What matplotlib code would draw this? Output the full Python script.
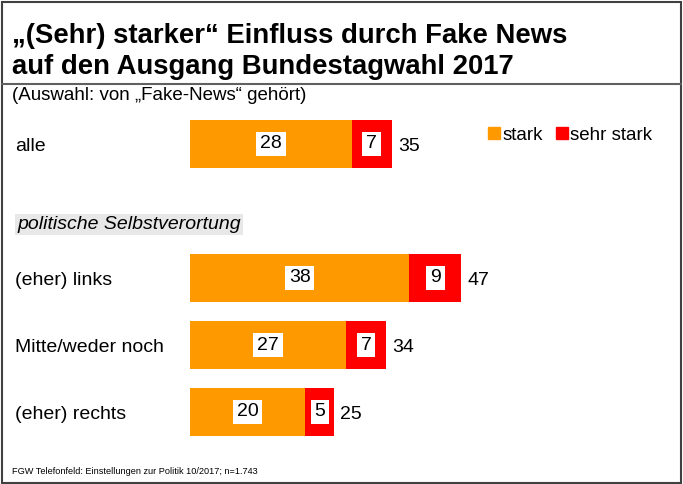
import matplotlib.pyplot as plt
from matplotlib.lines import Line2D
from matplotlib.patches import Rectangle
import matplotlib.transforms as mtransforms

plt.rcParams['font.family'] = ['Liberation Sans', 'DejaVu Sans']

# data
categories = ['alle', '(eher) links', 'Mitte/weder noch', '(eher) rechts']
positions = [0, 2, 3, 4]
stark = [28, 38, 27, 20]
sehr_stark = [7, 9, 7, 5]
totals = [35, 47, 34, 25]
series_names = ['stark', 'sehr stark']
c_stark = '#FF9900'
c_sehr = '#FF0000'

W, H = 683, 484
fig = plt.figure(figsize=(W / 100, H / 100), dpi=100)

# bar axes: 1 unit = 5.77 px, x starts at 190 px; row 0 centred at 144 px, 67 px per row
px_unit = 202 / 35.0
x0 = 190
xmax = 80
ytop, ybot = -0.5, 4.9
top_px = 144 + ytop * 67
bot_px = 144 + ybot * 67
ax = fig.add_axes([x0 / W, 1 - bot_px / H, xmax * px_unit / W, (bot_px - top_px) / H])
ax.set_xlim(0, xmax)
ax.set_ylim(ybot, ytop)
ax.axis('off')

bh = 0.72
ax.barh(positions, stark, height=bh, color=c_stark, edgecolor='none')
ax.barh(positions, sehr_stark, left=stark, height=bh, color=c_sehr, edgecolor='none')

box = dict(boxstyle='square,pad=0.2', facecolor='white', edgecolor='none')
for p, a, b, t in zip(positions, stark, sehr_stark, totals):
    ax.text(a / 2, p, str(a), ha='center', va='center', fontsize=14, bbox=box)
    ax.text(a + b / 2, p, str(b), ha='center', va='center', fontsize=14, bbox=box)
    ax.text(t + 1.0, p + 0.03, str(t), ha='left', va='center', fontsize=14)

# category labels on the left
trans = mtransforms.blended_transform_factory(fig.transFigure, ax.transData)
for p, c in zip(positions, categories):
    ax.text(15 / W, p + 0.04, c, transform=trans, ha='left', va='center', fontsize=14)
ax.text(17 / W, 1.2, 'politische Selbstverortung', transform=trans, ha='left',
        va='center', fontsize=14, style='italic',
        bbox=dict(boxstyle='square,pad=0.12', facecolor='#E8E8E8', edgecolor='none'))

# legend
handles = [Line2D([], [], marker='s', linestyle='none', markersize=9, color=c_stark),
           Line2D([], [], marker='s', linestyle='none', markersize=9, color=c_sehr)]
fig.legend(handles, series_names, loc='center left', bbox_to_anchor=(479 / W, 1 - 135 / H),
           ncol=2, frameon=False, fontsize=13.5, handletextpad=0.05, columnspacing=0.6,
           handlelength=0.8, borderaxespad=0)

# titles
fig.text(12 / W, 1 - 36 / H, '\u201e(Sehr) starker\u201c Einfluss durch Fake News',
         fontsize=19.8, fontweight='bold', ha='left', va='center')
fig.text(12 / W, 1 - 67 / H, 'auf den Ausgang Bundestagwahl 2017',
         fontsize=19.8, fontweight='bold', ha='left', va='center')
fig.text(12 / W, 1 - 96 / H, '(Auswahl: von \u201eFake-News\u201c gehört)',
         fontsize=13.5, ha='left', va='center')
fig.text(12 / W, 1 - 471 / H, 'FGW Telefonfeld: Einstellungen zur Politik 10/2017; n=1.743',
         fontsize=6.6, ha='left', va='center')

# frame and title rule
fig.add_artist(Rectangle((1.5 / W, 1.5 / H), (W - 3.5) / W, (H - 3) / H, transform=fig.transFigure,
                         fill=False, edgecolor='#404040', linewidth=1.5))
fig.add_artist(Line2D([1.5 / W, (W - 2) / W], [1 - 84 / H, 1 - 84 / H], transform=fig.transFigure,
                      color='#606060', linewidth=1.5))

fig.savefig('out.png', dpi=100)
